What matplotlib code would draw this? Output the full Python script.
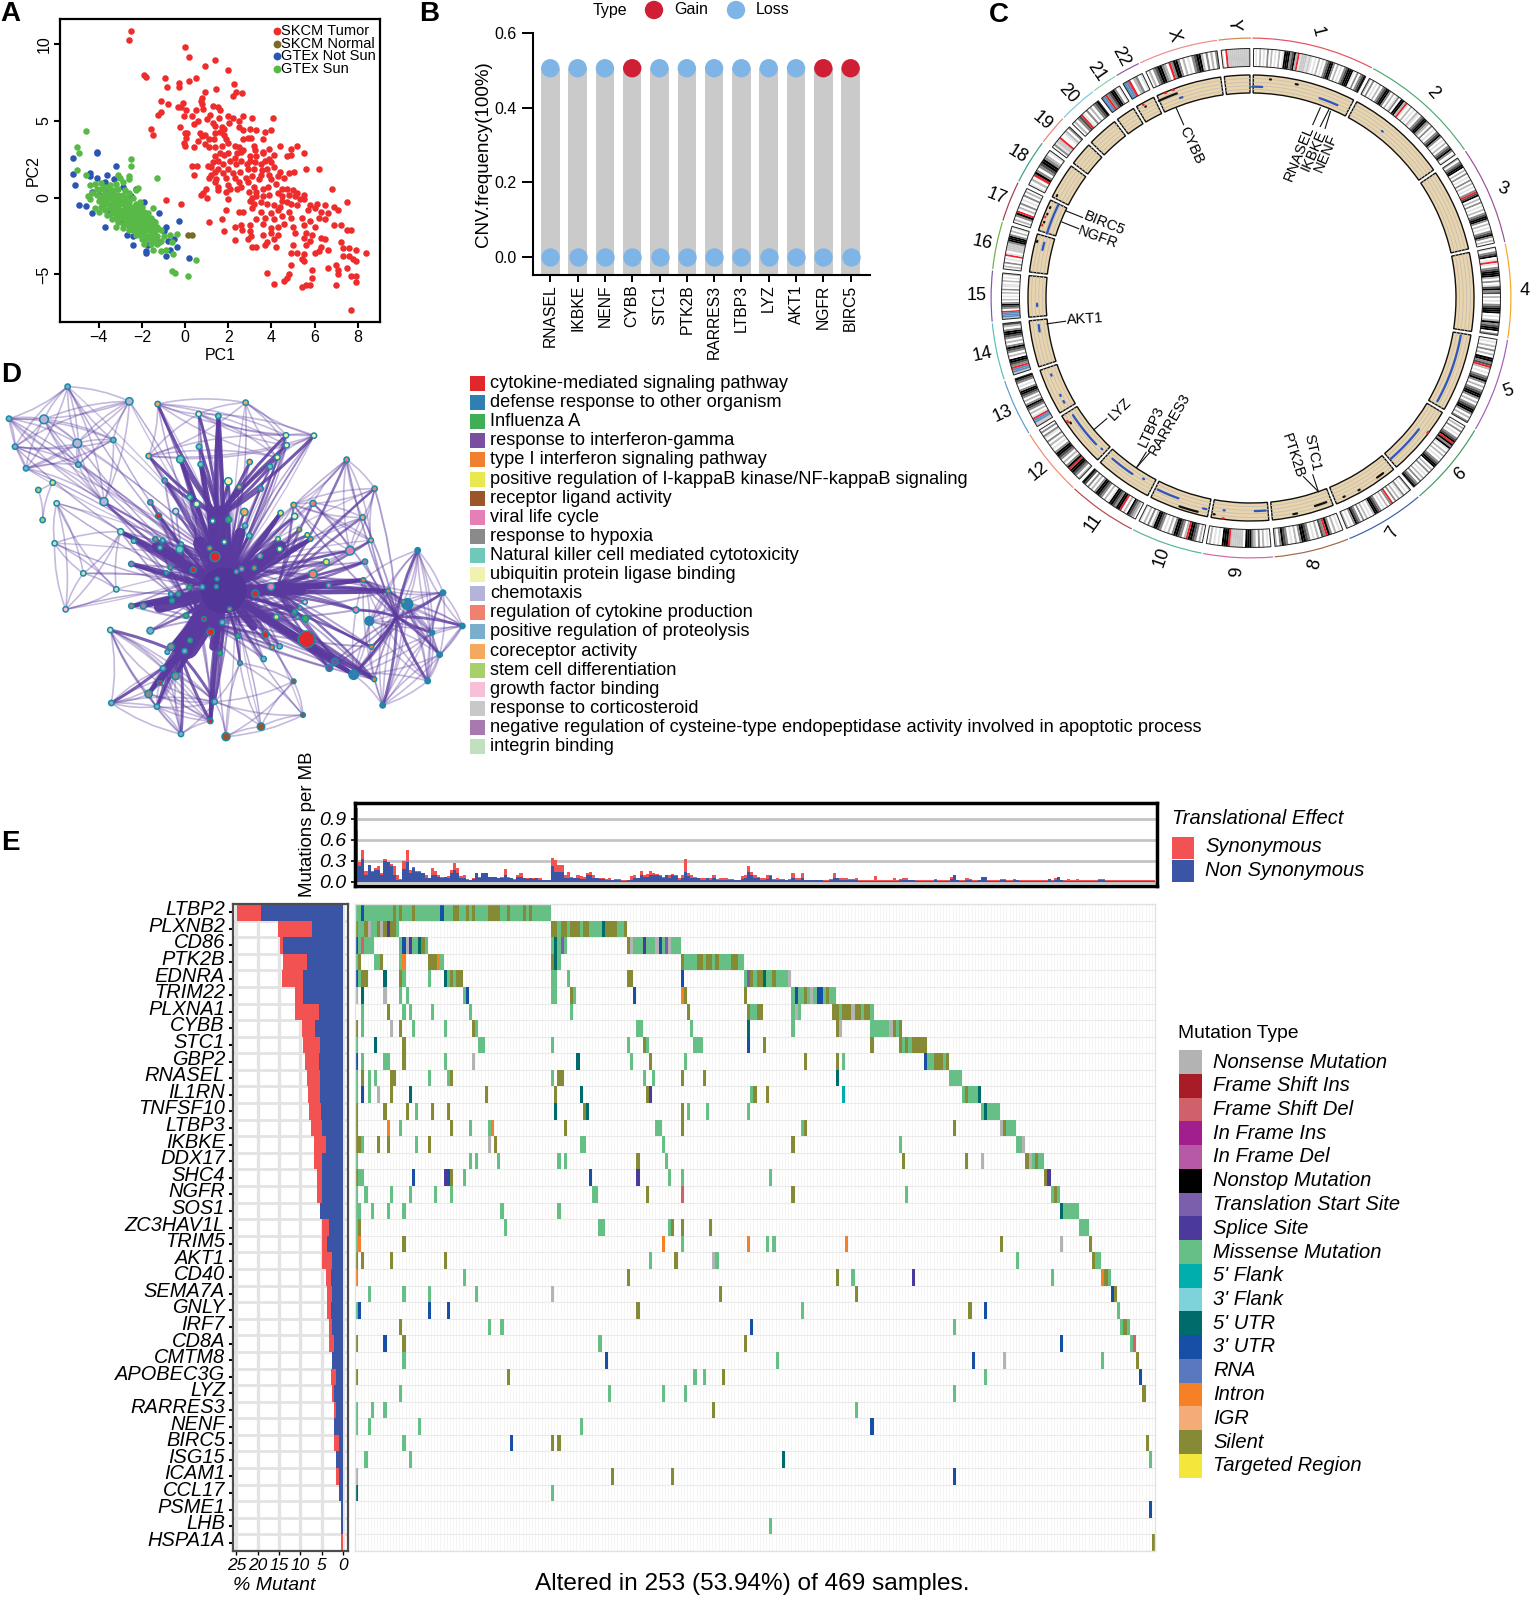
# Multi panel figure: PCA, CNV lollipop, circos, enrichment network, oncoplot
from itertools import combinations

import numpy as np
import matplotlib
matplotlib.use('Agg')
import matplotlib.pyplot as plt
from matplotlib.colors import ListedColormap
from matplotlib.patches import Rectangle, Wedge, PathPatch
from matplotlib.path import Path

plt.rcParams['font.family'] = ['Liberation Sans', 'DejaVu Sans']

W, H = 1536, 1597

# Panel A: PCA scores
pca_red = [(-2.5,10.9),(-2.6,10.3),(0,9.8),(0.2,9.2),(0.9,8.6),(1.4,9.0),(2.0,8.3),(-1.9,8.0),(-1.8,7.9),(-0.95,7.8),
    (-0.85,7.2),(-0.3,7.5),(-0.3,7.2),(0.17,7.6),(0.5,7.8),(2.25,7.4),(2.35,6.9),(2.2,6.6),(2.65,6.8),(1.45,7.1),
    (0.9,6.9),(0.8,6.5),(0.75,6.3),(0.8,6.1),(-1.1,6.3),(-0.8,6.1),(-1.1,5.6),(-1.25,5.4),(-0.35,5.9),(-0.2,5.9),
    (-0.1,6.2),(0.05,5.7),(-0.05,5.3),(0.3,5.3),(0.5,5.7),(0.85,5.8),(1.3,6.0),(1.5,5.9),(1.6,5.7),(1.55,5.2),
    (1.15,5.4),(1.0,5.1),(0.6,5.0),(0.4,4.8),(1.3,4.9),(1.7,4.6),(1.8,4.5),(2.0,5.3),(2.2,5.2),(2.5,5.0),
    (2.7,5.3),(3.1,5.2),(4.05,5.2),(2.05,4.9),(1.4,4.7),(1.6,4.3),(-1.6,4.5),(-1.5,4.1),(-0.25,4.6),(0,4.2),
    (0.1,4.2),(0.05,3.9),(-0.05,3.6),(0.7,4.2),(0.8,4.0),(0.9,4.1),(0.6,3.7),(0.9,3.5),(1.1,3.8),(1.4,4.2),
    (1.35,3.8),(1.8,4.1),(1.9,3.8),(2.0,3.6),(2.3,3.4),(2.5,4.6),(2.7,4.4),(3.0,4.5),(2.9,3.9),(2.7,3.8),
    (3.05,3.9),(3.3,4.4),(3.7,4.3),(4.0,4.4),(3.6,3.8),(0.0,3.4),(0.4,3.3),(1.1,3.3),(1.4,3.3),(1.7,3.4),
    (2.5,3.3),(2.7,3.1),(3.2,3.4),(3.25,3.1),(3.6,3.0),(3.9,3.2),(4.4,3.4),(4.9,3.2),(5.2,3.4),(5.5,2.9),
    (4.7,2.7),(4.9,2.8),(4.1,2.8),(3.9,2.5),(3.6,2.9),(3.3,2.7),(3.0,2.7),(2.6,3.0),(2.4,2.9),(2.3,2.6),
    (2.0,2.9),(1.8,2.8),(1.6,2.9),(1.4,2.7),(1.5,2.4),(1.3,2.3),(1.2,2.0),(1.5,1.9),(1.4,1.7),(0.3,2.1),
    (0.55,2.1),(1.05,2.1),(1.75,2.2),(2.1,2.4),(2.35,2.2),(2.6,2.4),(2.85,2.2),(3.0,2.4),(3.25,2.3),(3.5,2.2),
    (3.7,2.4),(4.0,2.3),(4.1,2.0),(3.8,1.9),(3.55,1.8),(3.2,1.9),(2.9,1.9),(2.55,1.7),(2.2,1.6),(2.0,1.9),
    (1.75,1.6),(1.2,1.5),(0.4,1.5),(1.1,1.3),(1.45,1.2),(1.9,1.3),(2.3,1.3),(2.8,1.3),(3.1,1.4),(3.5,1.5),
    (3.9,1.5),(4.4,1.7),(4.8,1.6),(5.05,1.7),(5.6,1.9),(6.2,1.9),(4.3,1.4),(4.6,1.3),(4.0,1.2),(3.4,1.2),
    (2.9,1.0),(2.5,1.0),(2.0,0.8),(1.4,1.0),(1.5,0.7),(0.95,0.6),(0.85,0.3),(1.0,0.0),(0.75,0.2),(1.5,0.5),
    (1.9,0.4),(2.1,0.6),(2.4,0.6),(2.6,0.7),(2.95,0.4),(3.2,0.7),(3.3,0.4),(3.6,0.6),(3.85,0.7),(4.2,0.9),
    (4.5,0.6),(4.7,0.6),(5.0,0.5),(5.2,0.3),(5.5,0.2),(6.8,0.6),(3.1,0.0),(3.3,0.1),(3.6,0.1),(3.9,0.2),
    (4.3,0.3),(4.5,0.1),(4.8,0.2),(5.1,0.1),(5.3,-0.1),(5.5,-0.1),(4.5,-0.2),(4.7,-0.3),(3.0,-0.2),(3.2,-0.4),
    (2.0,-0.1),(-0.9,-0.15),(-0.2,-0.4),(3.5,-0.3),(3.8,-0.4),(4.1,-0.5),(4.4,-0.6),(4.9,-0.4),(5.2,-0.5),(5.8,-0.5),
    (6.1,-0.4),(6.5,-0.5),(6.9,-0.6),(7.5,-0.3),(7.1,-0.8),(3.1,-0.7),(3.5,-0.9),(1.9,-0.8),(2.5,-0.9),(2.7,-0.9),
    (4.0,-1.0),(4.3,-0.8),(4.8,-0.9),(5.7,-0.8),(6.0,-0.7),(6.3,-0.9),(6.6,-1.0),(4.5,-1.2),(4.9,-1.3),(3.7,-1.3),
    (3.3,-1.4),(1.1,-1.6),(1.7,-1.4),(4.1,-1.4),(5.4,-1.3),(5.8,-1.5),(6.2,-1.3),(6.5,-1.4),(6.9,-1.8),(7.2,-1.8),
    (3.6,-1.7),(3.0,-1.8),(2.3,-1.9),(2.6,-1.8),(4.0,-2.0),(4.3,-1.9),(4.6,-1.7),(5.0,-1.9),(5.5,-1.8),(6.0,-1.9),
    (1.8,-2.2),(2.65,-2.1),(3.0,-2.2),(4.0,-2.3),(4.3,-2.4),(5.1,-2.3),(5.6,-2.3),(5.9,-2.4),(6.3,-2.6),(7.5,-2.1),
    (7.7,-2.1),(3.05,-2.5),(3.6,-2.4),(2.3,-2.75),(2.9,-2.7),(3.8,-2.9),(4.1,-2.7),(5.5,-2.6),(5.8,-2.8),(6.5,-2.7),
    (7.2,-2.9),(3.3,-3.2),(3.1,-3.2),(3.7,-3.1),(4.2,-3.2),(5.0,-3.1),(5.6,-3.1),(6.3,-3.2),(6.6,-3.4),(6.2,-3.5),
    (7.3,-3.3),(7.6,-3.3),(7.9,-3.4),(8.4,-3.6),(4.9,-3.6),(5.2,-3.6),(5.5,-3.7),(6.0,-3.6),(7.3,-3.8),(7.6,-3.8),
    (7.8,-4.0),(7.9,-4.1),(5.4,-4.0),(5.5,-4.1),(4.9,-4.4),(6.6,-4.6),(7.0,-4.4),(7.1,-4.7),(7.5,-4.6),(5.9,-4.7),
    (3.8,-4.9),(4.1,-5.6),(4.8,-5.0),(4.7,-5.2),(4.6,-5.4),(5.9,-5.2),(5.8,-5.7),(5.6,-5.7),(5.4,-5.8),(7.1,-5.0),
    (7.0,-5.7),(7.7,-5.1),(7.9,-5.1),(7.9,-5.5),(7.7,-7.3)]
pca_normal = [(0.15,-2.45),(0.3,-2.45)]
pca_blue = [(-5.2,2.6),(-4.1,3.0),(-4.1,2.9),(-3.2,2.1),(-5.2,1.55),(-5.1,0.85),(-4.4,1.6),(-4.4,1.4),(-4.1,1.3),(-3.6,1.5),
    (-4.9,-0.45),(-4.6,-0.55),(-4.3,-1.0),(-3.7,-1.9),(-2.4,-2.5),(-2.4,-3.1),(-1.8,-3.5),(-1.7,-3.1),(-1.0,-2.2),(-0.8,-2.8),
    (-0.5,-2.7),(-0.7,-3.4),(-0.3,-1.5),(-0.4,-3.2),(-0.9,-3.8),(0.2,-3.95),(-1.2,-1.0),(-1.9,-0.3),(-2.5,0.1),(-2.9,0.7),
    (-3.3,1.2),(-3.7,1.0),(-4.0,0.2),(-3.5,-1.0),(-3.0,-1.5),(-2.6,-1.8),(-2.2,-2.0),(-1.8,-2.0),(-1.5,-1.5),(-1.3,-2.0),
    (-2.1,-1.0),(-2.6,-0.6),(-3.1,-0.1),(-3.6,0.4),(-1.8,-3.6),(-2.7,-2.4),(-1.2,-2.9),(-0.9,-1.9),(-4.3,0.4),(-2.3,0.6)]
pca_green = [(-4.6,4.35),(-5.0,3.3),(-4.9,2.9),(-2.5,2.5),(-2.5,2.1),(-5.0,1.8),(-1.3,1.3),(-4.6,1.5),(-2.6,1.4),(-2.6,1.2),
    (-3.1,1.5),(-3.0,1.3),(-4.2,0.9),(-4.4,0.85),(-3.9,0.95),(-3.5,0.8),(-3.2,0.9),(-2.9,1.0),(-2.3,0.5),(-2.2,0.65),
    (-4.5,0.1),(-4.4,-0.1),(-4.1,0.6),(-3.9,0.6),(-3.7,0.7),(-3.5,0.5),(-3.3,0.5),(-3.1,0.6),(-2.8,0.5),(-2.6,0.3),
    (-4.1,0.2),(-3.9,0.1),(-3.7,0.3),(-3.5,0.2),(-3.3,0.2),(-3.1,0.2),(-2.9,0.2),(-2.7,0.0),(-2.4,0.0),(-4.0,-0.2),
    (-3.8,-0.2),(-3.6,-0.1),(-3.4,-0.1),(-3.2,-0.1),(-3.0,-0.1),(-2.8,-0.2),(-2.6,-0.3),(-2.3,-0.4),(-2.1,-0.3),(-4.2,-0.7),
    (-3.8,-0.5),(-3.6,-0.4),(-3.4,-0.4),(-3.2,-0.4),(-3.0,-0.4),(-2.8,-0.5),(-2.6,-0.6),(-2.4,-0.6),(-2.2,-0.6),(-2.0,-0.6),
    (-1.5,-0.7),(-4.0,-0.9),(-3.7,-0.8),(-3.5,-0.7),(-3.3,-0.7),(-3.1,-0.7),(-2.9,-0.8),(-2.7,-0.8),(-2.5,-0.9),(-2.3,-0.9),
    (-2.1,-0.9),(-1.9,-0.9),(-1.7,-1.0),(-3.6,-1.1),(-3.4,-1.0),(-3.2,-1.0),(-3.0,-1.0),(-2.8,-1.1),(-2.6,-1.1),(-2.4,-1.2),
    (-2.2,-1.2),(-2.0,-1.2),(-1.8,-1.3),(-1.6,-1.3),(-3.4,-1.4),(-3.2,-1.3),(-3.0,-1.3),(-2.8,-1.4),(-2.6,-1.4),(-2.4,-1.5),
    (-2.2,-1.5),(-2.0,-1.5),(-1.8,-1.6),(-1.6,-1.6),(-1.4,-1.6),(-3.1,-1.6),(-2.9,-1.7),(-2.7,-1.7),(-2.5,-1.8),(-2.3,-1.8),
    (-2.1,-1.8),(-1.9,-1.8),(-1.7,-1.9),(-1.5,-1.9),(-1.3,-1.9),(-3.2,-1.9),(-2.9,-2.0),(-2.6,-2.1),(-2.4,-2.1),(-2.2,-2.1),
    (-2.0,-2.1),(-1.8,-2.1),(-1.6,-2.2),(-1.4,-2.2),(-1.1,-2.1),(-2.3,-2.4),(-2.1,-2.4),(-1.9,-2.4),(-1.7,-2.5),(-1.5,-2.5),
    (-1.3,-2.5),(-1.0,-2.5),(-0.7,-2.4),(-0.4,-2.35),(-2.0,-2.7),(-1.8,-2.7),(-1.6,-2.7),(-1.4,-2.8),(-1.1,-2.8),(-0.6,-2.9),
    (-1.9,-3.0),(-1.6,-3.0),(-1.3,-3.0),(-1.5,-3.4),(-1.1,-3.5),(-0.9,-3.4),(-0.55,-3.7),(-0.6,-4.8),(-0.45,-4.9),(0.5,-4.05),
    (0.15,-5.1),(-3.7,0.0),(-4.3,0.3),(-3.9,-0.6)]

# Panel B: CNV frequency per gene
cnv_genes = ['RNASEL', 'IKBKE', 'NENF', 'CYBB', 'STC1', 'PTK2B', 'RARRES3', 'LTBP3', 'LYZ', 'AKT1', 'NGFR', 'BIRC5']
cnv_top = [0.505] * 12
cnv_types = ['Loss', 'Loss', 'Loss', 'Gain', 'Loss', 'Loss', 'Loss', 'Loss', 'Loss', 'Loss', 'Gain', 'Gain']

# Panel C: chromosome arcs in degrees, their colours and the band patterns
chrom_names = ['1','2','3','4','5','6','7','8','9','10','11','12','13','14','15','16','17','18','19','20','21','22','X','Y']
chrom_deg = [27.4,27.2,22,21,21,19,17.8,16.7,15.5,16,15.5,15.2,12.7,12.7,11.3,10.6,9,9.9,6.7,8.6,5.6,5.6,17.7,7.2]
chrom_colors = ['#e8505b','#52a875','#9c4f96','#f5a623','#a55eb5','#3e9b5c','#3a5fb0','#a5674a','#d566a5','#55b98e','#b5474f','#f08a6e',
    '#5b9bd0','#5ac0bf','#7e57b5','#6fb044','#a33a4f','#3d9c8c','#ee8277','#7cc6df','#8ccdb0','#8e5aa8','#f08a8a','#c98a4a']
chrom_bands = [
    '01020103020102015553452r1ccc1c101020103455302010345551030345',
    '2030102034553020130552r10201021034553203010345301020345301',
    '20345502030103020103r4502030102034553020103453020',
    '1034501r1034555203014534020103455501025345503',
    '0102030205534r2010345302034553020345530203',
    '0203010345r53510202010345502030102030345',
    '20103102030r30201034552010203034530102',
    '0102035r34020103455302010345302',
    '0102030235550ccccccr5550101020',
    '0203455r20345530201034552030201',
    '02345020r5534551020345530203045',
    '203455r5302034553010203013030',
    'ccbbr1020345302034553010345',
    'cbbr3455020345302034553024',
    'cbbbr0345302010203011020102',
    '0203010r10cccc355530201',
    '02035r02030103020',
    '1020r53034553201',
    '031ccr001203',
    '02034r103020345',
    'bbr3455301',
    'bbr02301',
    '0203455320r35530201034552030203',
    '10rccccccccccc',
]
band_colors = {'0': '#ffffff', '1': '#e3e3e3', '2': '#b8b8b8', '3': '#8a8a8a', '4': '#4d4d4d', '5': '#000000',
    'r': '#f0232a', 'c': '#c8c8c8', 'b': '#5b8ec0'}

# track hits: chromosome index, start fraction, end fraction, level in the track
hits_blue = [(0,0,0.1,0.35),(0,0.68,0.87,0.35),(1,0.37,0.38,0.4),(4,0.04,0.94,0.45),(5,0.39,0.97,0.45),(8,0.06,0.25,0.45),
    (8,0.77,0.79,0.5),(9,0.06,0.12,0.6),(9,0.56,0.94,0.45),(10,0.43,0.87,0.4),(10,0.21,0.23,0.3),(11,0.23,0.89,0.45),(11,0.09,0.11,0.4),
    (12,0.79,0.82,0.5),(12,0.32,0.35,0.5),(12,0.16,0.2,0.5),(13,0.73,0.87,0.5),(14,0.27,0.33,0.5),(15,0.62,0.81,0.5),(16,0.02,0.93,0.5),(22,0.32,0.36,0.4)]
hits_black = [(0,0.17,0.18,0.8),(0,0.42,0.44,0.75),(6,0.17,0.28,0.8),(6,0.59,0.61,0.85),(6,0.83,0.85,0.8),(7,0.1,0.29,0.7),(7,0.59,0.65,0.85),
    (8,0.93,0.95,0.8),(9,0.19,0.5,0.85),(11,0.79,0.81,0.8),(15,0.78,0.81,0.9),(16,0.3,0.32,0.85),(16,0.55,0.57,0.85),(16,0.75,0.78,0.85),
    (17,0.1,0.13,0.8),(21,0.4,0.43,0.75),(22,0.01,0.3,0.7)]
hits_red = [(5,0.34,0.36,0.95),(8,0.77,0.79,0.95),(11,0.83,0.86,0.9),(16,0.2,0.22,0.9),(16,0.45,0.47,0.9),(21,0.35,0.38,0.9),(22,0.14,0.16,0.95),(22,0.26,0.28,0.95)]

# Panel D: network nodes per enrichment term, x y radius in layout units
nodes_red = [(476,468,9),(645,590,15),(580,630,9),(766,701,11),(612,777,7),(632,816,11),(796,824,10),(920,838,25),(480,969,7),(631,1083,8)]
nodes_blue = [(1108,783,13),(1222,732,16),(1253,571,8),(1329,698,8),(1387,798,8),(1297,818,7),(1319,884,8),(1283,963,8),(1148,1036,8),(1061,944,14)]
nodes_green = [(686,479,9),(568,682,7),(516,722,7),(884,756,7),(916,776,10),(558,767,8),(714,828,7),(570,841,7),(660,880,7)]
nodes_purple = [(1005,905,10),(988,924,10)]
nodes_orange = [(898,509,7),(932,537,7),(629,565,7),(763,624,7),(1090,660,7),(1165,693,7),(689,747,6),(1210,725,6),(816,862,7),(1114,861,7),(1123,958,7)]
nodes_yellow = [(158,368,8),(842,459,8),(922,525,7),(834,537,7),(979,606,9),(829,771,8)]
nodes_brown = [(881,964,7),(909,1065,7),(783,1100,11),(678,1130,12)]
nodes_pink = [(1050,572,13),(780,588,8),(725,627,7),(709,635,6),(813,680,11),(986,676,7),(900,744,6),(893,772,6),(1068,750,9)]
nodes_gray = [(466,538,8),(511,622,7),(649,680,6),(535,702,7),(394,738,8),(513,860,10),(527,948,11),(446,1002,11)]
nodes_teal = [(655,168,8),(597,260,8),(541,298,11),(602,313,8),(810,320,8),(569,412,8),(748,527,8),(401,543,7),(480,563,7),(539,568,11),(544,552,6)]
nodes_paleyellow = [(596,162,8),(858,226,8),(942,227,8),(860,256,8),(832,292,8),(685,364,11),(590,432,9),(638,483,7),(884,469,9),(839,567,8),(673,546,7)]
nodes_lav = [(388,124,11),(132,178,13),(232,250,13),(312,425,12)]
nodes_salmon = [(939,430,9),(1040,299,8),(1124,386,8),(939,642,12)]
nodes_steel = [(203,80,8),(27,176,8),(45,260,8),(78,325,8),(235,314,8),(340,240,8),(735,497,8),(488,541,7),(607,681,7),(513,702,7),(667,787,8),(451,812,10),
    (502,876,7),(554,873,8),(839,859,8),(791,897,8),(489,925,8),(334,1029,8),(644,1025,8),(471,1040,8),(543,1122,8)]
nodes_lightorange = [(473,132,8),(737,128,8),(446,288,8),(749,306,8),(718,381,7),(733,456,11),(881,435,8),(1088,472,8),(1113,541,7)]
nodes_lightgreen = [(115,390,8),(128,480,8)]
nodes_lightpink = [(527,454,9),(197,748,8),(915,726,7)]
nodes_mauve = [(782,386,8),(494,362,8),(451,427,8),(1095,605,8),(394,612,8),(499,638,6),(651,657,6),(430,738,9),(720,909,7)]
nodes_palegreen = [(170,430,8),(362,515,9),(164,550,8),(250,640,8),(349,688,8),(331,810,8)]

# groups of nodes that are linked to each other
clique_topleft = [(203,80),(388,124),(132,178),(27,176),(45,260),(78,325),(232,250),(235,314),(340,240),(312,425)]
clique_left = [(170,430),(362,515),(164,550),(250,640),(349,688),(197,748)]
clique_small = [(158,368),(115,390),(128,480)]
clique_right = [(1040,299),(1124,386),(939,430),(881,435),(1088,472),(1113,541),(1050,572)]
clique_blue = [(1253,571),(1329,698),(1387,798),(1297,818),(1319,884),(1283,963),(1148,1036),(1222,732),(1108,783),(1061,944),(1165,693),(1210,725),(1090,660)]
clique_botleft = [(331,810),(334,1029),(471,1040),(644,1025),(446,1002),(527,948),(480,969),(489,925),(543,1122),(631,1083)]
clique_botright = [(881,964),(909,1065),(783,1100),(678,1130),(720,909),(644,1025)]
clique_top = [(473,132),(737,128),(596,162),(858,226),(942,227),(860,256),(832,292),(446,288)]

hub_main = (670, 690)
hub_top = (655, 470)
hub_blue = (1190, 770)
hub_low = (600, 780)
hub_upper = (700, 620)
hub_right = (830, 690)
hub_botleft = (540, 880)
spokes_main = [(655,168),(685,364),(569,412),(590,432),(476,468),(527,454),(638,483),(686,479),(733,456),(735,497),(748,527),(842,459),(884,469),
    (898,509),(922,525),(932,537),(834,537),(839,567),(979,606),(939,642),(1050,572),(1095,605),(401,543),(466,538),(488,541),(480,563),(539,568),(544,552),
    (629,565),(673,546),(645,590),(780,588),(394,612),(511,622),(499,638),(580,630),(725,627),(709,635),(763,624),(651,657),(649,680),(607,681),(568,682),
    (813,680),(986,676),(1090,660),(1165,693),(766,701),(513,702),(535,702),(516,722),(394,738),(430,738),(689,747),(915,726),(900,744),(884,756),(893,772),
    (916,776),(829,771),(1068,750),(558,767),(612,777),(667,787),(451,812),(632,816),(796,824),(714,828),(570,841),(513,860),(502,876),(554,873),(660,880),
    (816,862),(839,859),(791,897),(720,909),(1005,905),(988,924),(489,925),(527,948),(1061,944),(1123,958),(480,969),(446,1002),(471,1040),(644,1025),(631,1083),
    (312,425),(362,515),(451,427),(494,362),(1114,861),(920,838)]
spokes_top = [(473,132),(596,162),(655,168),(597,260),(541,298),(602,313),(446,288),(749,306),(832,292),(810,320),(858,226),(942,227),(860,256),(685,364),(718,381),(782,386),(494,362)]
spokes_heavy = [(655,168),(602,313),(541,298),(394,738),(430,738),(480,969),(527,948),(513,860),(631,1083),(1165,693),(986,676),(1005,905),(1061,944),(1123,958),(394,612),(362,515),(446,1002),(842,459),(932,537),(1090,660)]
spokes_blue = [(1253,571),(1329,698),(1387,798),(1297,818),(1319,884),(1283,963),(1148,1036),(1068,750),(1114,861),(1090,660),(1061,944)]
spokes_botleft = [(334,1029),(446,1002),(480,969),(527,948),(489,925),(471,1040),(644,1025),(631,1083),(543,1122),(331,810)]
spokes_right = [(1068,750),(1114,861),(1005,905),(988,924),(1123,958),(1061,944),(1165,693),(1095,605),(1124,386),(1040,299),(1088,472),(1113,541),(939,430),(881,435)]
# core bundles, thick strokes out of the middle of the network
bundles = [((655,470),16), ((560,860),18), ((480,740),9), ((470,560),7), ((840,560),9), ((900,690),8), ((640,860),6), ((760,800),6), ((720,520),8), ((600,550),10)]

term_labels = ['cytokine-mediated signaling pathway', 'defense response to other organism', 'Influenza A', 'response to interferon-gamma',
    'type I interferon signaling pathway', 'positive regulation of I-kappaB kinase/NF-kappaB signaling', 'receptor ligand activity', 'viral life cycle',
    'response to hypoxia', 'Natural killer cell mediated cytotoxicity', 'ubiquitin protein ligase binding', 'chemotaxis', 'regulation of cytokine production',
    'positive regulation of proteolysis', 'coreceptor activity', 'stem cell differentiation', 'growth factor binding', 'response to corticosteroid',
    'negative regulation of cysteine-type endopeptidase activity involved in apoptotic process', 'integrin binding']
term_colors = ['#e0282c', '#2f7fb5', '#3fae55', '#7a4fa0', '#f08030', '#e8e84f', '#9c5528', '#e67fb5', '#8a8a8a', '#70c8b8', '#f2f2b0', '#b4b4da',
    '#f08070', '#7aaecb', '#f5a860', '#a5d06a', '#f5c0d8', '#c8c8c8', '#a878b0', '#c0e0c0']
term_nodes = [nodes_red, nodes_blue, nodes_green, nodes_purple, nodes_orange, nodes_yellow, nodes_brown, nodes_pink, nodes_gray, nodes_teal,
    nodes_paleyellow, nodes_lav, nodes_salmon, nodes_steel, nodes_lightorange, nodes_lightgreen, nodes_lightpink, [], nodes_mauve, nodes_palegreen]

# Panel E: oncoplot
genes = ['LTBP2','PLXNB2','CD86','PTK2B','EDNRA','TRIM22','PLXNA1','CYBB','STC1','GBP2','RNASEL','IL1RN','TNFSF10','LTBP3','IKBKE','DDX17','SHC4','NGFR','SOS1',
    'ZC3HAV1L','TRIM5','AKT1','CD40','SEMA7A','GNLY','IRF7','CD8A','CMTM8','APOBEC3G','LYZ','RARRES3','NENF','BIRC5','ISG15','ICAM1','CCL17','PSME1','LHB','HSPA1A']
pct_nonsyn = [19.3,7.3,14.1,8.5,9.4,9.4,5.7,6.6,5.3,5.7,5.3,5.3,5.1,4.9,4.1,4.9,4.9,4.9,5.3,3.4,3.7,2.5,2.9,2.5,2.9,2.5,2.2,2.5,1.7,2.1,1.7,2.1,0.9,1.7,0.9,0.9,0.5,0.5,0]
pct_syn = [5.5,8.0,0.6,5.6,4.8,1.9,5.5,3.1,4.0,3.2,3.2,2.8,2.9,2.7,2.7,2.0,1.2,1.2,0,1.6,1.2,2.4,1.2,1.2,0.9,0.8,1.1,0,1.2,0.4,0.5,0,1.2,0,0.8,0,0,0,0.5]

tmb_nonsyn = [.74,.22,.33,.10,.24,.14,.17,.17,.10,.30, .28,.22,.10,.02,.02,.18,.28,.12,.20,.14, .14,.12,.05,.05,.10,.10,.07,.05,.07,.06,
    .12,.17,.12,.06,.06,.03,.02,.04,.12,.05, .12,.12,.07,.07,.07,.05,.05,.10,.05,.05, .03,.07,.07,.05,.04,.05,.04,.05,.02,.03,
    .02,.02,.23,.14,.14,.14,.05,.05,.05,.05, .05,.04,.04,.10,.10,.05,.05,.04,.04,.03, .03,.02,.02,.02,.01,.01,.02,.02,.05,.05,
    .10,.07,.07,.10,.10,.09,.08,.05,.10,.05, .10,.08,.03,.05,.14,.08,.05,.05,.05,.03, .03,.05,.03,.06,.03,.03,.03,.03,.03,.03,
    .02,.02,.04,.06,.14,.10,.05,.05,.03,.03, .04,.08,.03,.03,.03,.02,.02,.02,.05,.03, .03,.05,.02,.02,.02,.02,.02,.02,.01,.01,
    .02,.05,.05,.03,.03,.03,.03,.02,.02,.01, .01,.01,.01,.01,.01,.01,.01,.01,.01,.01, .01,.01,.02,.03,.03,.03,.03,.01,.01,.01,
    .01,.01,.01,.02,.01,.01,.01,.01,.04,.10, .02,.01,.01,.03,.02,.01,.01,.02,.07,.07, .01,.01,.01,.01,.02,.02,.01,.01,.03,.03,
    .01,.01,.01,.01,.01,.01,.01,.01,.01,.04, .01,.02,.07,.02,.01,.01,.01,.01,.01,.01, .01,.01,.01,.01,.01,.03,.03,.01,.01,.01,
    .01,.01,.01,.01,.01,.01,.01,.01,.01,.01,.01,.01,.01]
tmb_syn = [.31,.06,.12,.05,0,.02,.03,.06,.03,.02, 0,.03,.12,.07,.02,.12,.17,.05,.01,.01, .01,.01,.04,0,.10,.06,.02,.02,0,.02,
    .05,.10,.08,.02,.04,.01,.01,.01,0,.02, 0,0,0,0,0,.01,.02,.08,.02,.01, .01,.02,.05,.01,.01,0,.01,0,.03,0,
    .01,0,.11,.17,.10,.10,.04,.09,.02,0, .04,.04,.03,.03,.04,.05,0,.02,.02,.01, .02,.01,.02,.02,.01,.01,.01,.06,.05,.01,
    .05,.02,.04,.05,.03,.02,.02,.02,0,.04, .01,.02,.02,.04,.18,.04,.05,.02,.01,.02, .02,.01,.03,.03,.01,.02,.02,.03,.01,.01,
    .01,.01,.04,.03,.08,.04,.05,.02,.02,.02, .06,.02,.01,.02,.01,.02,.01,.02,.07,.02, .02,.07,.01,.01,.01,.01,.01,.01,.02,.01,
    .02,.07,.01,.02,.02,.03,.01,.02,.03,.01, .02,.01,.02,.02,.07,.01,.01,.01,.02,.01, .04,.01,.02,.02,.02,0,0,.01,.01,.01,
    .01,.01,.01,.02,.01,.01,.01,.01,.03,0, 0,.01,.02,.02,.02,.01,.01,.01,0,0, .01,.01,.01,.01,.02,.02,.01,.01,.01,0,
    .01,.01,.02,.01,.01,.01,.01,.01,.01,0, .01,.03,0,.01,.01,.03,.01,.01,.03,.01, .01,.02,.02,.01,.01,.01,.01,.01,.01,.01,
    .01,.02,.01,.02,.01,.02,.01,.02,.01,.02,.01,.02,.01]

mut_types = ['Nonsense Mutation', 'Frame Shift Ins', 'Frame Shift Del', 'In Frame Ins', 'In Frame Del', 'Nonstop Mutation', 'Translation Start Site',
    'Splice Site', 'Missense Mutation', "5' Flank", "3' Flank", "5' UTR", "3' UTR", 'RNA', 'Intron', 'IGR', 'Silent', 'Targeted Region']
mut_colors = ['#b3b3b3', '#a81c28', '#d0616a', '#a21d8e', '#b65aa5', '#000000', '#7b5fad', '#4b3a9c', '#66bf85', '#00aeae', '#7ed2da', '#006b6b',
    '#174ea6', '#5a78bd', '#f58025', '#f4ab78', '#868a34', '#f5e63c']
N, D, L, P, M, C, T, B, O, S = 'Nonsense Mutation', 'Frame Shift Del', 'Translation Start Site', 'Splice Site', 'Missense Mutation', "5' Flank", "5' UTR", "3' UTR", 'Intron', 'Silent'

# per gene: first sample, number of samples, type (later entries paint over)
mutations = [
    [(0,62,M),(2,1,B),(12,1,S),(14,1,S),(18,1,S),(27,1,B),(31,2,S),(35,1,S),(37,1,S),(42,4,S),(48,1,S),(53,1,S),(55,1,S)],
    [(0,14,M),(0,1,S),(3,1,S),(4,1,N),(6,1,M),(7,1,S),(8,1,N),(9,1,S),(10,1,P),(11,2,S),(62,24,M),(62,2,S),(65,2,S),(68,3,S),(72,2,S),(78,1,T),(79,4,S),(85,1,S)],
    [(0,6,M),(0,1,B),(2,1,D),(14,9,M),(15,1,B),(16,1,N),(17,1,P),(20,1,T),(21,1,S),(62,5,M),(63,1,T),(65,1,L),(86,17,M),(86,1,S),(87,1,N),(91,1,P),(95,1,N),(96,1,B),(98,1,L),(99,1,N)],
    [(0,1,M),(1,1,S),(6,2,M),(8,1,S),(14,1,M),(15,1,O),(23,3,S),(26,1,O),(27,1,M),(62,1,S),(63,1,T),(64,1,M),(103,20,M),(103,1,S),(108,2,S),(111,2,S),(114,1,S),(119,2,S)],
    [(0,1,B),(1,1,M),(2,2,S),(9,1,T),(14,1,S),(15,1,M),(23,1,M),(28,1,T),(29,1,M),(30,1,S),(31,1,M),(32,2,S),(62,2,M),(67,1,M),(86,2,S),(103,1,B),(123,15,M),(124,1,L),(125,1,S),(127,2,S),(129,1,T),(132,1,S),(137,1,N)],
    [(0,1,N),(2,1,T),(9,1,N),(14,1,M),(16,1,M),(34,1,M),(35,1,B),(62,2,M),(68,1,S),(69,1,M),(88,1,B),(103,1,O),(104,1,S),(123,1,S),(138,14,M),(139,1,B),(142,1,S),(144,1,N),(146,2,B),(149,1,S)],
    [(2,1,M),(10,1,S),(15,1,M),(17,1,M),(24,1,M),(36,1,M),(68,1,M),(105,1,S),(124,1,S),(125,2,M),(127,2,S),(138,1,M),(139,1,N),(140,1,M),(151,13,M),(151,2,S),(154,3,S),(157,1,N),(158,2,S),(161,2,S)],
    [(0,1,S),(2,1,M),(11,1,N),(14,1,S),(18,1,M),(28,1,M),(37,1,S),(38,1,M),(89,2,M),(106,1,M),(124,1,T),(138,1,M),(152,1,S),(153,1,N),(163,10,M),(169,1,N),(170,1,S),(172,1,S)],
    [(0,1,M),(6,1,T),(15,1,S),(39,2,M),(62,1,M),(86,1,M),(91,1,S),(92,1,M),(107,3,M),(124,1,B),(129,1,S),(163,1,S),(172,9,M),(172,1,S),(174,1,S),(176,5,S)],
    [(0,1,B),(2,1,M),(9,2,M),(15,1,S),(28,1,M),(37,1,N),(70,1,T),(87,1,M),(93,1,S),(104,1,M),(142,1,S),(152,1,S),(154,1,M),(180,8,M),(180,1,B),(183,3,S),(187,1,S)],
    [(0,1,M),(2,1,S),(4,1,M),(6,1,M),(11,2,S),(23,1,M),(29,1,M),(30,1,S),(62,1,M),(64,2,S),(91,1,M),(94,1,M),(103,1,S),(110,1,S),(152,1,T),(188,4,M)],
    [(0,1,M),(2,1,B),(4,1,M),(7,1,N),(11,1,S),(17,1,T),(41,1,S),(63,1,S),(71,1,T),(92,1,S),(93,1,P),(125,1,M),(126,1,S),(130,1,S),(154,1,C),(192,6,M),(193,1,S),(197,1,T)],
    [(0,1,S),(9,1,S),(16,1,S),(19,1,M),(24,1,S),(29,1,S),(63,1,T),(72,1,S),(73,1,T),(103,1,S),(105,1,M),(111,1,M),(124,1,M),(198,6,M),(199,1,T)],
    [(0,1,S),(10,1,O),(14,1,M),(30,1,S),(36,1,M),(42,1,M),(43,1,O),(66,1,S),(95,2,M),(103,1,S),(141,1,M),(142,1,S),(189,1,S),(204,5,M),(204,1,N),(205,1,S)],
    [(0,2,S),(2,1,M),(7,1,S),(10,1,S),(19,1,M),(23,1,S),(42,1,N),(44,1,S),(71,2,M),(97,1,M),(138,1,S),(172,1,M),(209,3,M),(211,1,N)],
    [(0,1,M),(36,1,M),(38,1,M),(45,1,M),(64,1,M),(66,1,M),(89,1,S),(98,1,M),(173,1,S),(193,1,S),(198,1,N),(212,6,M),(212,1,S),(213,1,N),(215,1,S)],
    [(0,1,S),(1,2,M),(18,1,B),(28,1,P),(29,1,B),(30,1,S),(34,1,M),(74,1,B),(89,1,P),(99,1,M),(103,1,M),(131,1,M),(218,1,S),(219,1,P)],
    [(0,1,M),(3,1,M),(11,1,M),(17,1,M),(25,1,M),(30,1,M),(75,2,M),(92,1,S),(103,1,D),(138,1,S),(174,1,M),(220,3,M),(221,1,S)],
    [(0,2,M),(5,1,M),(10,1,M),(15,1,M),(46,1,M),(64,1,M),(223,6,M),(223,1,T)],
    [(0,1,M),(1,1,S),(47,1,M),(77,2,M),(99,1,M),(100,1,S),(103,1,S),(112,1,S),(229,3,M)],
    [(0,1,M),(1,1,O),(15,1,S),(97,1,O),(103,1,M),(124,1,O),(130,1,M),(132,1,M),(155,1,O),(204,1,S),(223,1,N),(232,1,S)],
    [(0,1,S),(2,1,S),(11,1,S),(28,1,S),(93,1,M),(101,1,S),(113,1,N),(114,1,M),(209,1,M),(233,1,S),(234,2,M)],
    [(0,1,O),(34,1,M),(86,1,S),(152,1,S),(157,1,M),(176,1,P),(220,1,M),(236,3,M),(236,1,O),(237,1,S)],
    [(4,1,M),(15,1,M),(23,1,M),(38,1,M),(62,1,N),(115,1,S),(158,1,S),(239,1,B),(240,1,S)],
    [(0,1,M),(1,1,B),(23,1,B),(29,1,B),(89,1,S),(141,1,M),(194,1,S),(199,1,B),(241,1,M)],
    [(14,1,S),(42,1,M),(46,1,M),(125,1,B),(189,1,M),(242,3,M),(243,1,S)],
    [(0,1,S),(9,1,B),(15,1,S),(77,1,M),(123,1,S),(223,1,B),(245,1,M),(246,1,D)],
    [(15,1,M),(79,1,B),(133,1,M),(195,1,B),(205,1,N),(236,1,M),(247,1,S)],
    [(0,1,S),(48,1,S),(107,1,M),(110,1,M),(116,1,S),(199,1,M),(248,1,B)],
    [(14,1,M),(80,1,M),(97,1,M),(104,1,M),(189,1,M),(249,1,S)],
    [(0,1,M),(5,1,M),(9,1,M),(113,1,S),(158,1,M)],
    [(0,1,M),(4,1,M),(20,1,M),(71,1,M),(163,1,B)],
    [(15,1,M),(49,1,B),(62,1,S),(64,1,S),(250,1,S)],
    [(3,1,M),(17,1,M),(135,1,T),(251,1,M)],
    [(0,1,N),(81,1,S),(100,1,S),(189,1,B)],
    [(0,1,T),(62,1,M)],
    [(251,1,B)],
    [(131,1,M)],
    [(252,1,S)],
]
n_samples = 253


def box(left, top, right, bottom):
    return fig.add_axes([left / W, 1 - bottom / H, (right - left) / W, (bottom - top) / H])


fig = plt.figure(figsize=(W / 100, H / 100), dpi=100)

# ---- Panel A ----
axA = box(60, 19, 380, 322)
for pts, col in [(pca_red, '#ee2c2c'), (pca_normal, '#7a6a2a'), (pca_blue, '#2a55b0'), (pca_green, '#58b947')]:
    xy = np.array(pts)
    axA.scatter(xy[:, 0], xy[:, 1], s=22, color=col, linewidths=0)
axA.set_xlim(-5.8, 9.03)
axA.set_ylim(-8.1, 11.65)
axA.set_xticks([-4, -2, 0, 2, 4, 6, 8])
axA.set_yticks([-5, 0, 5, 10])
axA.tick_params(labelsize=11.5, width=1.5, length=4, pad=2)
plt.setp(axA.get_yticklabels(), rotation=90, va='center')
axA.set_xlabel('PC1', fontsize=11.5, labelpad=2)
axA.set_ylabel('PC2', fontsize=11.5, labelpad=-3)
for s in axA.spines.values():
    s.set_linewidth(1.6)
for i, (name, col) in enumerate([('SKCM Tumor', '#ee2c2c'), ('SKCM Normal', '#7a6a2a'), ('GTEx Not Sun', '#2a55b0'), ('GTEx Sun', '#58b947')]):
    yy = 0.9605 - i * 0.0415
    axA.scatter([0.6775], [yy], s=32, color=col, linewidths=0, transform=axA.transAxes)
    axA.text(0.69, yy, name, fontsize=10.5, va='center', transform=axA.transAxes)

# ---- Panel B ----
axB = box(532.7, 32.7, 870, 274.7)
pos = np.arange(len(cnv_genes))
axB.bar(pos, np.array(cnv_top) + 0.047, bottom=-0.047, width=0.68, color='#c9cac9', linewidth=0)
axB.scatter(pos, [0] * len(pos), s=175, color='#7fb5e6', linewidths=0, zorder=3, clip_on=False)
axB.scatter(pos, cnv_top, s=175, color=['#cf1f35' if t == 'Gain' else '#7fb5e6' for t in cnv_types], linewidths=0, zorder=3)
axB.set_xlim(-0.645, 11.71)
axB.set_ylim(-0.047, 0.6)
axB.set_xticks(pos)
axB.set_xticklabels(cnv_genes, rotation=90, fontsize=11.3)
axB.set_yticks([0, 0.2, 0.4, 0.6])
axB.set_yticklabels(['0.0', '0.2', '0.4', '0.6'], fontsize=11.5)
axB.tick_params(width=1.4, length=8)
axB.tick_params(axis='x', length=5, pad=2)
axB.set_ylabel('CNV.frequency(100%)', fontsize=13.5, labelpad=2)
axB.spines['top'].set_visible(False)
axB.spines['right'].set_visible(False)
axB.spines['left'].set_linewidth(1.5)
axB.spines['bottom'].set_linewidth(1.5)

# ---- Panel C ----
c_x, c_y = 1251, 298
R = 295
axC = box(c_x - R, c_y - R, c_x + R, c_y + R)
axC.set_xlim(-R, R)
axC.set_ylim(-R, R)
axC.axis('off')
ARC_R, IDEO_OUT, IDEO_IN, TRACK_OUT, TRACK_IN, LABEL_R = 260.5, 249.5, 231.5, 223, 205, 274
GAP = 0.34
INSET = 0.3
start = 0.3
chrom_start = []
for i, deg in enumerate(chrom_deg):
    chrom_start.append(start)
    a1, a2 = 90 - start - deg, 90 - start
    axC.add_patch(Wedge((0, 0), ARC_R, a1, a2, width=1.2, fc=chrom_colors[i], ec='none'))
    b1, b2 = a1 + INSET, a2 - INSET
    bands = chrom_bands[i]
    step = (b2 - b1) / len(bands)
    for k, ch in enumerate(bands):
        axC.add_patch(Wedge((0, 0), IDEO_OUT, b2 - (k + 1) * step, b2 - k * step, width=IDEO_OUT - IDEO_IN, fc=band_colors[ch], ec='none', lw=0))
    axC.add_patch(Wedge((0, 0), IDEO_OUT, b1, b2, width=IDEO_OUT - IDEO_IN, fc='none', ec='#222222', lw=0.7))
    axC.add_patch(Wedge((0, 0), TRACK_OUT, b1, b2, width=TRACK_OUT - TRACK_IN, fc='#e9d4ad', ec='none'))
    for lev in [0.2, 0.4, 0.6, 0.8]:
        t = np.radians(np.linspace(b1, b2, 30))
        rr = TRACK_IN + lev * (TRACK_OUT - TRACK_IN)
        axC.plot(rr * np.cos(t), rr * np.sin(t), color='#c4c0b4', lw=0.6)
    axC.add_patch(Wedge((0, 0), TRACK_OUT, b1, b2, width=TRACK_OUT - TRACK_IN, fc='none', ec='#111111', lw=1.0))
    theta = start + deg / 2
    mid = np.radians(90 - theta)
    rot = theta - 90 if theta < 180 else 270 - theta
    axC.text(LABEL_R * np.cos(mid), LABEL_R * np.sin(mid), chrom_names[i], fontsize=13, ha='center', va='center', rotation=rot)
    start += deg + GAP
for hits, col in [(hits_blue, '#2e55c0'), (hits_black, '#111111'), (hits_red, '#e8282b')]:
    for idx, f1, f2, lev in hits:
        t1 = 90 - chrom_start[idx] - f1 * chrom_deg[idx]
        t2 = 90 - chrom_start[idx] - f2 * chrom_deg[idx]
        t = np.radians(np.linspace(t1, t2, 20))
        rr = TRACK_IN + lev * (TRACK_OUT - TRACK_IN)
        axC.plot(rr * np.cos(t), rr * np.sin(t), color=col, lw=1.6, solid_capstyle='round')

# gene labels, placed in the zoomed layout of the ring
ZX, ZY, ZS = 805, 793, 2.67
circ_labels = [('CYBB', 645, 385, -65), ('RNASEL', 932, 407, 68), ('IKBKE', 972, 400, 66), ('NENF', 1005, 407, 67), ('BIRC5', 412, 595, -22),
    ('NGFR', 395, 632, -20), ('AKT1', 362, 850, 3), ('LYZ', 455, 1090, 45), ('LTBP3', 540, 1135, 65), ('RARRES3', 588, 1130, 60),
    ('PTK2B', 917, 1215, -72), ('STC1', 967, 1205, -78)]
circ_lines = [(605, 285, 625, 330), (990, 285, 970, 330), (1013, 290, 990, 335), (1017, 295, 1003, 340), (310, 560, 355, 578), (300, 590, 345, 608),
    (260, 862, 310, 855), (385, 1145, 420, 1115), (500, 1245, 525, 1205), (500, 1245, 535, 1205), (985, 1310, 945, 1270), (985, 1310, 970, 1265)]
for name, zx, zy, rot in circ_labels:
    axC.text((zx - ZX) / ZS, (ZY - zy) / ZS, name, fontsize=10.5, rotation=rot, ha='center', va='center')
for x1, y1, x2, y2 in circ_lines:
    axC.plot([(x1 - ZX) / ZS, (x2 - ZX) / ZS], [(ZY - y1) / ZS, (ZY - y2) / ZS], color='#111111', lw=0.8)

# ---- Panel D ----
axD = box(0, 360, 470, 750)
axD.set_xlim(0, 1410)
axD.set_ylim(1170, 0)
axD.axis('off')


def edge(a, b, bend, lw, alpha):
    ax_, ay_ = a
    bx_, by_ = b
    mx, my = (ax_ + bx_) / 2, (ay_ + by_) / 2
    cx, cy = mx - (by_ - ay_) * bend, my + (bx_ - ax_) * bend
    p = Path([(ax_, ay_), (cx, cy), (bx_, by_)], [Path.MOVETO, Path.CURVE3, Path.CURVE3])
    axD.add_patch(PathPatch(p, fc='none', ec='#5a3a9e', lw=lw, alpha=alpha, capstyle='round'))


for group in [clique_topleft, clique_left, clique_small, clique_right, clique_blue, clique_botleft, clique_botright, clique_top]:
    for k, (a, b) in enumerate(combinations(group, 2)):
        edge(a, b, 0.1 if k % 2 else -0.1, 1.2, 0.35)
# long links between the outer groups and the middle
for group in [clique_topleft, clique_left, clique_right, clique_botright, clique_top]:
    for k, n in enumerate(group):
        edge(hub_main, n, 0.08 if k % 2 else -0.08, 1.1, 0.42)
        edge(hub_upper, n, -0.05 if k % 2 else 0.05, 1.0, 0.32)
for k, n in enumerate(spokes_main):
    edge(hub_main, n, 0.06 if k % 2 else -0.06, 1.8, 0.75)
    edge(hub_low, n, -0.05 if k % 2 else 0.05, 1.4, 0.45)
    edge(hub_upper, n, 0.04 if k % 2 else -0.04, 1.4, 0.45)
for k, n in enumerate(spokes_top):
    edge(hub_top, n, 0.05 if k % 2 else -0.05, 2.2, 0.85)
    edge(hub_main, n, -0.03 if k % 2 else 0.03, 1.4, 0.6)
for n in spokes_heavy:
    edge(hub_main, n, 0.02, 3.2, 0.9)
    edge(hub_main, n, -0.03, 2.0, 0.7)
for k, n in enumerate(spokes_blue):
    edge(hub_blue, n, 0.08 if k % 2 else -0.08, 2.0, 0.75)
for k, n in enumerate(spokes_botleft):
    edge(hub_botleft, n, 0.05 if k % 2 else -0.05, 2.2, 0.8)
for k, n in enumerate(spokes_right):
    edge(hub_right, n, 0.05 if k % 2 else -0.05, 1.8, 0.7)
    edge(hub_blue, n, -0.06 if k % 2 else 0.06, 1.3, 0.5)
for target, width in bundles:
    edge(hub_main, target, 0.0, width, 0.96)
axD.scatter([hub_main[0]], [hub_main[1]], s=1100, color='#513598', linewidths=0, zorder=2)
for term, col in zip(term_nodes, term_colors):
    if not term:
        continue
    xyr = np.array(term, dtype=float)
    axD.scatter(xyr[:, 0], xyr[:, 1], s=(0.48 * xyr[:, 2]) ** 2, color=col, edgecolors='#1c8aa5', linewidths=1.1, zorder=4)

# ---- Panel E: mutation load ----
axT = box(355, 803, 1157, 886)
x = np.arange(n_samples)
axT.bar(x + 0.5, tmb_nonsyn, width=1.0, color='#3a55a6', linewidth=0, zorder=2)
axT.bar(x + 0.5, tmb_syn, bottom=tmb_nonsyn, width=1.0, color='#f25252', linewidth=0, zorder=2)
axT.set_xlim(0, 253.6)
axT.set_ylim(-0.06, 1.125)
axT.set_xticks([])
axT.set_yticks([0, 0.3, 0.6, 0.9])
axT.set_yticklabels(['0.0', '0.3', '0.6', '0.9'], fontsize=14, style='italic')
axT.tick_params(axis='y', length=3, width=1.2, pad=3)
axT.grid(axis='y', color='#c4c4c4', lw=2)
axT.set_axisbelow(True)
for s in axT.spines.values():
    s.set_linewidth(2.5)

# ---- Panel E: percent bars ----
axP = box(233, 904, 348, 1551)
rows = np.arange(len(genes)) + 0.5
axP.barh(rows, pct_nonsyn, height=1.0, color='#3a55a6', linewidth=0, zorder=2)
axP.barh(rows, pct_syn, left=pct_nonsyn, height=1.0, color='#f25252', linewidth=0, zorder=2)
axP.set_xlim(25.8, -1.17)
axP.set_ylim(len(genes), 0)
axP.set_xticks([25, 20, 15, 10, 5, 0])
axP.set_xticklabels(['25', '20', '15', '10', '5', '0'], fontsize=12.5, style='italic')
axP.set_yticks(rows)
axP.set_yticklabels([])
# gene names sit slightly above the row centre, so they are not tick labels
for r, gene in zip(rows, genes):
    axP.text(-0.07, r - 0.15, gene, fontsize=14.4, style='italic', ha='right', va='center', transform=axP.get_yaxis_transform())
axP.tick_params(axis='y', length=3, width=1.5)
axP.tick_params(axis='x', length=3, width=1, pad=2)
axP.xaxis.grid(True, color='#e3e3e3', lw=2.4, zorder=0)
for yy in range(1, len(genes)):
    axP.axhline(yy, color='#e3e3e3', lw=2.0, zorder=1)
axP.set_axisbelow(True)
for s in axP.spines.values():
    s.set_linewidth(1.6)
    s.set_color('#4d4d4d')

# ---- Panel E: oncoplot ----
axM = box(355, 904, 1155, 1551)
grid = np.zeros((len(genes), n_samples), dtype=int)
for r, entries in enumerate(mutations):
    for first, count, kind in entries:
        grid[r, first:first + count] = mut_types.index(kind) + 1
axM.vlines(np.arange(n_samples + 1), 0, len(genes), color='#f2f2ee', lw=0.5, zorder=1)
axM.hlines(np.arange(len(genes) + 1), 0, n_samples, color='#ebebeb', lw=0.8, zorder=1)
axM.pcolormesh(np.arange(n_samples + 1), np.arange(len(genes) + 1), np.ma.masked_equal(grid, 0), cmap=ListedColormap(['#ffffff'] + mut_colors),
    vmin=0, vmax=len(mut_types), zorder=2, antialiased=False, linewidth=0)
axM.set_xlim(0, n_samples)
axM.set_ylim(len(genes), 0)
axM.set_xticks([])
axM.set_yticks([])
for s in axM.spines.values():
    s.set_color('#e2e2e2')
    s.set_linewidth(1.0)

# ---- Everything placed directly on the page ----
ov = fig.add_axes([0, 0, 1, 1], zorder=10)
ov.set_xlim(0, W)
ov.set_ylim(H, 0)
ov.axis('off')
ov.patch.set_alpha(0)
for letter, lx, ly in [('A', 0, 14), ('B', 419, 14), ('C', 989, 15), ('D', 1, 375), ('E', 1, 843)]:
    ov.text(lx, ly, letter, fontsize=20, fontweight='bold', va='center')

# legend of panel B
ov.text(610, 10, 'Type', fontsize=11.5, ha='center', va='center')
ov.scatter([654, 736], [10, 10], s=175, color=['#cf1f35', '#7fb5e6'], linewidths=0)
ov.text(691, 10, 'Gain', fontsize=11.5, ha='center', va='center')
ov.text(773, 10, 'Loss', fontsize=11.5, ha='center', va='center')

# legend of panel D
for i, (name, col) in enumerate(zip(term_labels, term_colors)):
    yy = 383.5 + i * 19.11
    ov.add_patch(Rectangle((470, yy - 7.5), 15, 15, fc=col, ec='none'))
    ov.text(490, yy, name, fontsize=13.15, va='center')

# legends of panel E
ov.text(1172, 818, 'Translational Effect', fontsize=14.5, style='italic', va='center')
ov.add_patch(Rectangle((1172, 837), 22, 22, fc='#f25252', ec='none'))
ov.add_patch(Rectangle((1172, 860), 22, 22, fc='#3a55a6', ec='none'))
ov.text(1205, 847, 'Synonymous', fontsize=14.5, style='italic', va='center')
ov.text(1205, 870, 'Non Synonymous', fontsize=14.5, style='italic', va='center')
ov.text(1178, 1033, 'Mutation Type', fontsize=13.9, va='center')
for i, (name, col) in enumerate(zip(mut_types, mut_colors)):
    yy = 1062 + i * 23.75
    ov.add_patch(Rectangle((1179, yy - 11.9), 23, 23.75, fc=col, ec='none'))
    ov.text(1213, yy, name, fontsize=14.5, style='italic', va='center')
ov.text(308, 824, 'Mutations per MB', fontsize=13.4, rotation=90, ha='center', va='center')
ov.text(274, 1585, '% Mutant', fontsize=14, style='italic', ha='center', va='center')
ov.text(752, 1584, 'Altered in 253 (53.94%) of 469 samples.', fontsize=17.6, ha='center', va='center')

fig.savefig('out.png', dpi=100)
